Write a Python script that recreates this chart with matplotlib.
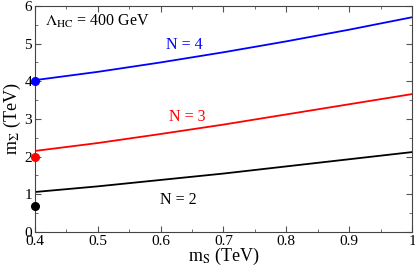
import matplotlib
matplotlib.use("Agg")
import matplotlib.pyplot as plt
from matplotlib.ticker import MultipleLocator

# m_S (TeV)
m_s = [0.4, 0.5, 0.6, 0.7, 0.8, 0.9, 1.0]
# m_Sigma (TeV) for each N
m_sig_n4 = [4.03, 4.25, 4.50, 4.77, 5.06, 5.37, 5.70]
m_sig_n3 = [2.15, 2.36, 2.60, 2.85, 3.12, 3.39, 3.66]
m_sig_n2 = [1.06, 1.21, 1.38, 1.55, 1.74, 1.93, 2.12]

# single points at m_S = 0.4
pt_x = 0.4
pt_n4 = 4.0
pt_n3 = 2.0
pt_n2 = 0.7

plt.rcParams['font.family'] = ['Liberation Serif', 'DejaVu Serif']
plt.rcParams['mathtext.fontset'] = 'stix'

fig = plt.figure(figsize=(4.15, 2.70), dpi=100)
ax = fig.add_axes([0.084, 0.141, 0.909, 0.837])

ax.plot(m_s, m_sig_n4, color='#0000ff', lw=1.3)
ax.plot(m_s, m_sig_n3, color='#ff0000', lw=1.3)
ax.plot(m_s, m_sig_n2, color='black', lw=1.3)

ax.plot([pt_x], [pt_n4], 'o', color='#0000ff', ms=5.5, clip_on=False, zorder=5)
ax.plot([pt_x], [pt_n3], 'o', color='#ff0000', ms=5.5, clip_on=False, zorder=5)
ax.plot([pt_x], [pt_n2], 'o', color='black', ms=5.5, clip_on=False, zorder=5)

ax.text(0.637, 4.85, 'N = 4', color='#0000ff', fontsize=11.5, ha='center')
ax.text(0.643, 2.95, 'N = 3', color='#ff0000', fontsize=11.5, ha='center')
ax.text(0.628, 0.73, 'N = 2', color='black', fontsize=11.5, ha='center')
ax.text(0.416, 5.6, r'$\Lambda_{\mathrm{HC}}$ = 400 GeV', fontsize=11.5, va='center')

ax.set_xlim(0.4, 1.0)
ax.set_ylim(0, 6)
ax.xaxis.set_major_locator(MultipleLocator(0.1))
ax.xaxis.set_minor_locator(MultipleLocator(0.05))
ax.yaxis.set_major_locator(MultipleLocator(1))
ax.yaxis.set_minor_locator(MultipleLocator(0.5))
ax.set_xticks([0.4, 0.5, 0.6, 0.7, 0.8, 0.9, 1.0])
ax.set_xticklabels(['0.4', '0.5', '0.6', '0.7', '0.8', '0.9', '1'])

ax.tick_params(which='both', direction='in', top=True, right=True,
               labelsize=11, color='#555555', pad=2)
ax.tick_params(which='major', length=4)
ax.tick_params(which='minor', length=2.5)
for sp in ax.spines.values():
    sp.set_linewidth(0.8)
    sp.set_color('#444444')

ax.set_xlabel(r'm$_\mathrm{S}$ (TeV)', fontsize=13, labelpad=-1)
ax.set_ylabel(r'm$_\Sigma$ (TeV)', fontsize=13, labelpad=1)

fig.savefig('out.png', dpi=100)
